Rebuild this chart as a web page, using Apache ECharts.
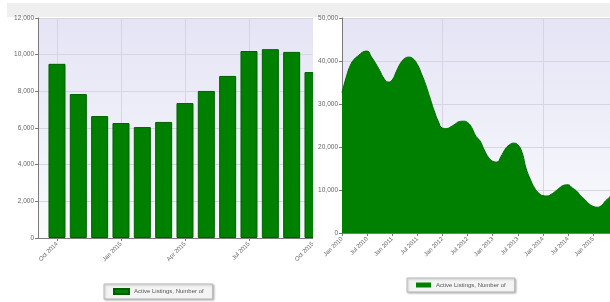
<!DOCTYPE html>
<html>
<head>
<meta charset="utf-8">
<script src="https://cdn.jsdelivr.net/npm/echarts@6/dist/echarts.min.js"></script>
<style>
  html, body { margin: 0; padding: 0; background: #fff; }
  #wrap1 { position: absolute; left: 0; top: 0; width: 313px; height: 302px; overflow: hidden; }
  #wrap2 { position: absolute; left: 313px; top: 0; width: 297px; height: 302px; overflow: hidden; background: #fff; }
  #box1 { width: 350px; height: 302px; }
  #box2 { width: 330px; height: 302px; }
</style>
</head>
<body>
<div id="wrap1"><div id="box1"></div></div>
<div id="wrap2"><div id="box2"></div></div>
<script>
var seriesName = 'Active Listings, Number of';

// left chart: monthly bars Oct 2014 - Oct 2015
var barMonths = ['Oct 2014', 'Nov 2014', 'Dec 2014', 'Jan 2015', 'Feb 2015', 'Mar 2015', 'Apr 2015',
  'May 2015', 'Jun 2015', 'Jul 2015', 'Aug 2015', 'Sep 2015', 'Oct 2015'];
var barValues = [9500, 7850, 6650, 6270, 6050, 6330, 7360, 8020, 8840, 10200, 10300, 10150, 9050];
var barLabelIdx = [0, 3, 6, 9, 12];

// right chart: monthly area Jan 2010 - Jun 2015
var areaValues = [
  32600, 36200, 39000, 40500, 41300, 42100, 42300, 41000, 39500, 37800, 36000, 35100,
  35600, 37600, 39500, 40600, 40900, 40500, 39200, 37000, 34500, 31500, 28500, 26000,
  24400, 24300, 24700, 25300, 25900, 26000, 25700, 24500, 22500, 21400, 19300, 17600,
  16700, 16500, 17800, 19500, 20500, 20900, 20500, 18800, 15000, 12500, 10500, 9300,
  8700, 8600, 9000, 9700, 10500, 11100, 11200, 10500, 9800, 8700, 7800, 6800,
  6200, 6000, 6400, 7500, 8400, 9500
];
var monthNames = ['Jan', 'Feb', 'Mar', 'Apr', 'May', 'Jun', 'Jul', 'Aug', 'Sep', 'Oct', 'Nov', 'Dec'];
var areaMonths = [];
for (var i = 0; i < areaValues.length; i++) {
  areaMonths.push(monthNames[i % 12] + ' ' + (2010 + Math.floor(i / 12)));
}

var fmt = function (v) { return v.toLocaleString('en-US'); };
var plotBg = new echarts.graphic.LinearGradient(0, 0, 0, 1, [
  { offset: 0, color: '#e4e4f5' },
  { offset: 1, color: '#fafafe' }
]);
var gridLine = { lineStyle: { color: '#d6d6e2', width: 1 } };
var axisLine = { show: true, onZero: false, lineStyle: { color: '#7a7a7a', width: 1 } };
var labelStyle = { color: '#666', fontSize: 6, fontFamily: 'Arial, Liberation Sans, sans-serif' };
var legendStyle = {
  backgroundColor: '#f4f4f4',
  borderColor: '#b8b8b8',
  borderWidth: 1,
  padding: [4, 9],
  itemWidth: 15,
  itemHeight: 5,
  icon: 'rect',
  shadowBlur: 2,
  shadowColor: 'rgba(0,0,0,0.25)',
  shadowOffsetX: 1,
  shadowOffsetY: 1,
  textStyle: { color: '#555', fontSize: 6, fontFamily: 'Arial, Liberation Sans, sans-serif' },
  data: [seriesName]
};

var box1 = echarts.init(document.getElementById('box1'));
var box2 = echarts.init(document.getElementById('box2'));

box1.setOption({
  animation: false,
  graphic: [{ type: 'rect', shape: { x: 7, y: 3, width: 350, height: 14 }, style: { fill: '#efefef' }, silent: true }],
  legend: Object.assign({ left: 104, top: 284 }, legendStyle),
  grid: { left: 38, top: 18, right: 5, bottom: 64, show: true, backgroundColor: plotBg, borderWidth: 0 },
  xAxis: {
    type: 'value',
    min: -0.89,
    max: 13.5,
    axisLine: axisLine,
    axisTick: { show: true, length: 3, lineStyle: { color: '#7a7a7a' }, customValues: barLabelIdx },
    axisLabel: Object.assign({
      rotate: 45, margin: 5,
      customValues: barLabelIdx,
      formatter: function (v) { return barMonths[Math.round(v)]; }
    }, labelStyle),
    splitLine: Object.assign({ show: true }, gridLine)
  },
  yAxis: {
    type: 'value',
    min: 0, max: 12000, interval: 2000,
    axisLine: axisLine,
    axisTick: { show: true, length: 3, lineStyle: { color: '#7a7a7a' } },
    axisLabel: Object.assign({ formatter: fmt, margin: 4 }, labelStyle, { fontSize: 6.5 }),
    splitLine: gridLine
  },
  series: [{
    name: seriesName,
    type: 'bar',
    barWidth: 17,
    itemStyle: { color: '#008000', borderColor: '#005f00', borderWidth: 1 },
    data: barValues.map(function (v, i) { return [i, v]; })
  }]
});

box2.setOption({
  animation: false,
  graphic: [{ type: 'rect', shape: { x: 0, y: 3, width: 330, height: 14 }, style: { fill: '#efefef' }, silent: true }],
  legend: Object.assign({ left: 94, top: 278 }, legendStyle),
  grid: { left: 29, top: 18, width: 272, bottom: 69, show: true, backgroundColor: plotBg, borderWidth: 0 },
  xAxis: {
    type: 'category',
    boundaryGap: false,
    data: areaMonths,
    axisLine: axisLine,
    axisTick: { show: true, length: 3, interval: 5, lineStyle: { color: '#7a7a7a' } },
    axisLabel: Object.assign({ rotate: 45, margin: 5, interval: 5 }, labelStyle),
    splitLine: Object.assign({ show: true, interval: 23 }, gridLine)
  },
  yAxis: {
    type: 'value',
    min: 0, max: 50000, interval: 10000,
    axisLine: axisLine,
    axisTick: { show: true, length: 3, lineStyle: { color: '#7a7a7a' } },
    axisLabel: Object.assign({ formatter: fmt, margin: 4 }, labelStyle, { fontSize: 6.5 }),
    splitLine: gridLine
  },
  series: [{
    name: seriesName,
    type: 'line',
    smooth: 0.5,
    symbol: 'none',
    lineStyle: { color: '#006a00', width: 1 },
    itemStyle: { color: '#008000' },
    areaStyle: { color: '#008000', opacity: 1 },
    data: areaValues
  }]
});
</script>
</body>
</html>
